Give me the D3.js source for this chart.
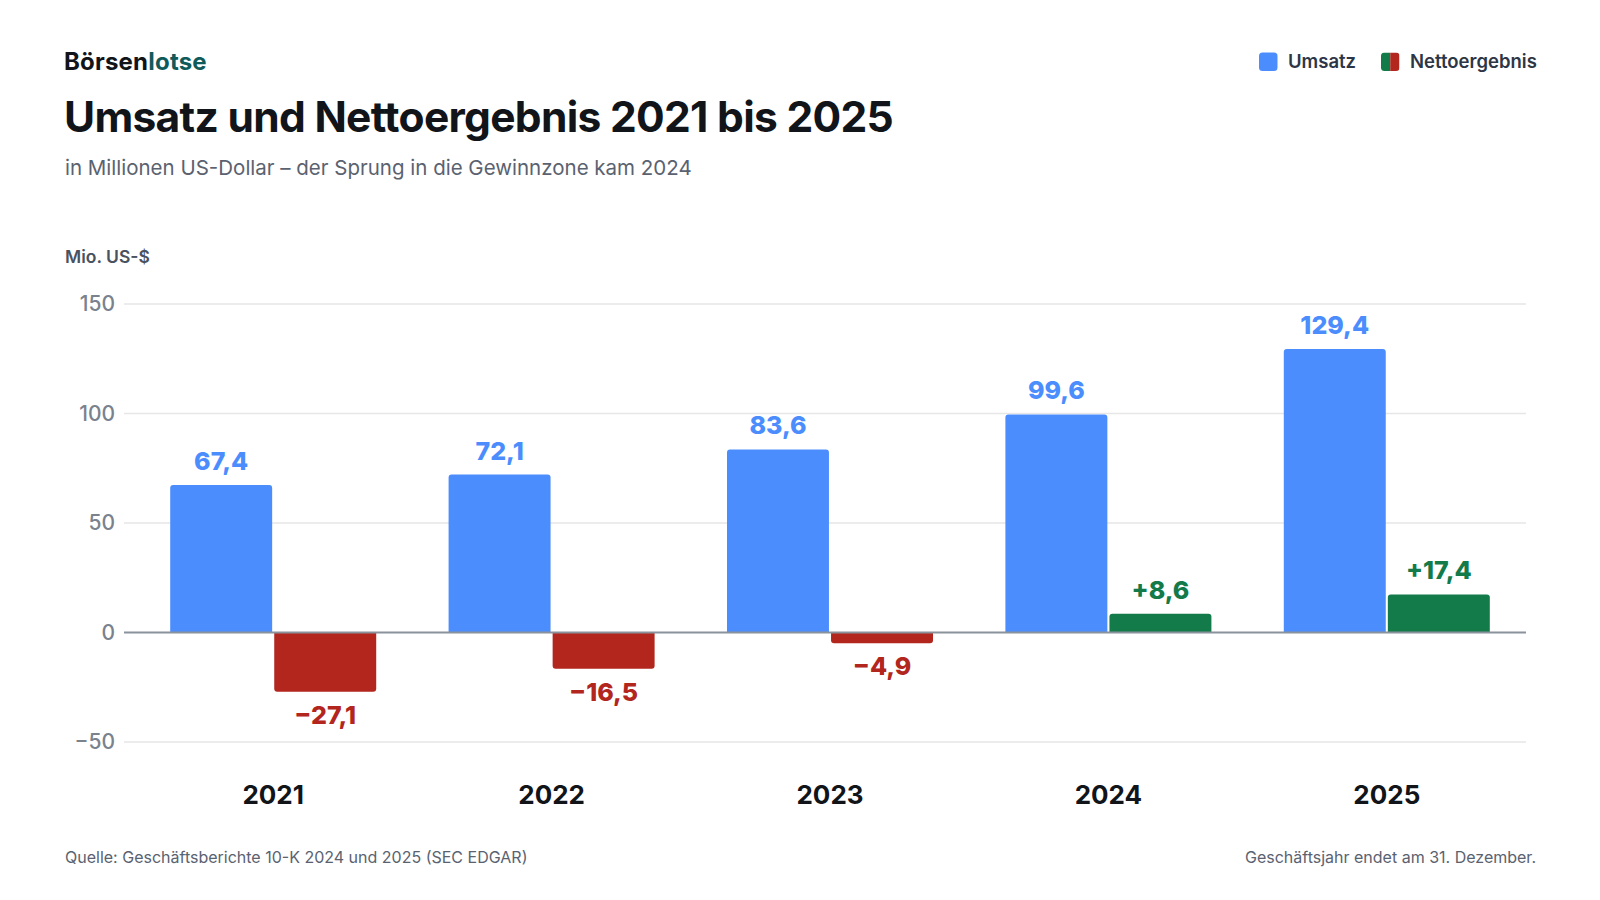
<!DOCTYPE html>
<html lang="de">
<head>
<meta charset="utf-8">
<script src="https://cdn.jsdelivr.net/npm/d3@7"></script>
<style>
  html, body { margin: 0; padding: 0; background: #fff; }
  svg { display: block; font-family: Inter, "Noto Sans", sans-serif; }
</style>
</head>
<body>
<svg id="chart"></svg>
<script>
// Werte in Mio. US-$
var years = ["2021", "2022", "2023", "2024", "2025"];
var umsatz = [67.4, 72.1, 83.6, 99.6, 129.4];
var netto = [-27.1, -16.5, -4.9, 8.6, 17.4];
var yTicks = [-50, 0, 50, 100, 150];
var seriesNames = ["Umsatz", "Nettoergebnis"];

var width = 1600,
    height = 900;
var left = 65,
    right = 1536;
var blue = "#4c8dfe",
    red = "#b2261e",
    green = "#137a4a";

var svg = d3.select("#chart")
    .attr("width", width)
    .attr("height", height)
    .attr("viewBox", "0 0 " + width + " " + height);

// Kopfzeile
var logo = svg.append("text")
    .attr("x", left - 1)
    .attr("y", 70)
    .attr("font-size", "24px")
    .attr("font-weight", 700)
    .attr("letter-spacing", "0.2px");
logo.append("tspan").attr("fill", "#111418").text("Börsen");
logo.append("tspan").attr("fill", "#0f5b5b").text("lotse");

svg.append("text")
    .attr("x", left - 1)
    .attr("y", 132)
    .attr("font-size", "42.5px")
    .attr("font-weight", 700)
    .attr("letter-spacing", "-0.7px")
    .attr("fill", "#111418")
    .text("Umsatz und Nettoergebnis 2021 bis 2025");

svg.append("text")
    .attr("x", left)
    .attr("y", 175)
    .attr("font-size", "20.5px")
    .attr("fill", "#5a6270")
    .text("in Millionen US-Dollar – der Sprung in die Gewinnzone kam 2024");

// Legende
var legend = svg.append("g");
legend.append("rect")
    .attr("x", 1259).attr("y", 52.5)
    .attr("width", 18.5).attr("height", 18.5)
    .attr("rx", 3.5)
    .attr("fill", blue);
legend.append("text")
    .attr("x", 1288).attr("y", 67.5)
    .attr("font-size", "18.5px").attr("font-weight", 600)
    .attr("fill", "#2d3646")
    .text(seriesNames[0]);

var clip = svg.append("clipPath").attr("id", "legclip");
clip.append("rect")
    .attr("x", 1381).attr("y", 52.5)
    .attr("width", 18.5).attr("height", 18.5)
    .attr("rx", 3.5);
legend.append("rect")
    .attr("x", 1381).attr("y", 52.5)
    .attr("width", 9.25).attr("height", 18.5)
    .attr("fill", green)
    .attr("clip-path", "url(#legclip)");
legend.append("rect")
    .attr("x", 1390.25).attr("y", 52.5)
    .attr("width", 9.25).attr("height", 18.5)
    .attr("fill", red)
    .attr("clip-path", "url(#legclip)");
legend.append("text")
    .attr("x", 1410).attr("y", 67.5)
    .attr("font-size", "18.5px").attr("font-weight", 600)
    .attr("fill", "#2d3646")
    .text(seriesNames[1]);

// Skalen
var y = d3.scaleLinear()
    .domain([-50, 150])
    .range([742, 304]);

var x0 = d3.scaleBand()
    .domain(years)
    .range([134, 1526])
    .paddingInner(0.26)
    .paddingOuter(0.13);

var x1 = d3.scaleBand()
    .domain(seriesNames)
    .range([0, x0.bandwidth()])
    .paddingInner(0.02);

svg.append("text")
    .attr("x", left)
    .attr("y", 263)
    .attr("font-size", "17.5px")
    .attr("font-weight", 600)
    .attr("fill", "#4a5260")
    .text("Mio. US-$");

// Gitternetz
svg.append("g")
    .selectAll("line")
    .data(yTicks.filter(d => d !== 0))
    .join("line")
    .attr("x1", 124)
    .attr("x2", 1526)
    .attr("y1", d => y(d))
    .attr("y2", d => y(d))
    .attr("stroke", "#e6e6e6")
    .attr("stroke-width", 1.5);

var yAxis = svg.append("g")
    .attr("transform", "translate(115,0)")
    .call(d3.axisLeft(y).tickValues(yTicks).tickSize(0).tickPadding(0)
        .tickFormat(d => d < 0 ? "\u2212" + Math.abs(d) : d));
yAxis.select(".domain").remove();
yAxis.selectAll("text")
    .attr("font-family", "Inter, 'Noto Sans', sans-serif")
    .attr("font-size", "21px")
    .attr("font-weight", 500)
    .attr("fill", "#7a828e");

function fmt(v, sign) {
    var s = Math.abs(v).toFixed(1).replace(".", ",");
    if (!sign) return s;
    return (v < 0 ? "\u2212" : "+") + s;
}

// Balken mit abgerundeter Außenkante
function barPath(x, w, v) {
    var y0 = y(0), y1 = y(v), r = 3;
    var h = Math.abs(y1 - y0);
    if (h < 2 * r) r = h / 2;
    if (v >= 0) {
        return "M" + x + "," + y0 +
            "V" + (y1 + r) + "Q" + x + "," + y1 + " " + (x + r) + "," + y1 +
            "H" + (x + w - r) + "Q" + (x + w) + "," + y1 + " " + (x + w) + "," + (y1 + r) +
            "V" + y0 + "Z";
    }
    return "M" + x + "," + y0 +
        "V" + (y1 - r) + "Q" + x + "," + y1 + " " + (x + r) + "," + y1 +
        "H" + (x + w - r) + "Q" + (x + w) + "," + y1 + " " + (x + w) + "," + (y1 - r) +
        "V" + y0 + "Z";
}

var groups = svg.append("g")
    .selectAll("g")
    .data(years.map((yr, i) => ({ year: yr, rev: umsatz[i], net: netto[i] })))
    .join("g")
    .attr("transform", d => "translate(" + x0(d.year) + ",0)");

groups.append("path")
    .attr("d", d => barPath(x1("Umsatz"), x1.bandwidth(), d.rev))
    .attr("fill", blue);

groups.append("path")
    .attr("d", d => barPath(x1("Nettoergebnis"), x1.bandwidth(), d.net))
    .attr("fill", d => d.net < 0 ? red : green);

groups.append("text")
    .attr("x", x1("Umsatz") + x1.bandwidth() / 2)
    .attr("y", d => y(d.rev) - 15)
    .attr("text-anchor", "middle")
    .attr("font-size", "25px")
    .attr("font-weight", 800)
    .attr("fill", blue)
    .text(d => fmt(d.rev, false));

groups.append("text")
    .attr("x", x1("Nettoergebnis") + x1.bandwidth() / 2)
    .attr("y", d => d.net < 0 ? y(d.net) + 32 : y(d.net) - 15)
    .attr("text-anchor", "middle")
    .attr("font-size", "25px")
    .attr("font-weight", 800)
    .attr("fill", d => d.net < 0 ? red : green)
    .text(d => fmt(d.net, true));

// Nulllinie
svg.append("line")
    .attr("x1", 124)
    .attr("x2", 1526)
    .attr("y1", y(0))
    .attr("y2", y(0))
    .attr("stroke", "#8a929c")
    .attr("stroke-width", 2);

// Jahre
var xAxis = svg.append("g")
    .attr("transform", "translate(0,804)")
    .call(d3.axisBottom(x0).tickSize(0).tickPadding(0));
xAxis.select(".domain").remove();
xAxis.selectAll("text")
    .attr("dy", 0)
    .attr("y", 0)
    .attr("font-family", "Inter, 'Noto Sans', sans-serif")
    .attr("font-size", "26px")
    .attr("font-weight", 700)
    .attr("fill", "#111418");

// Fußzeile
svg.append("text")
    .attr("x", left)
    .attr("y", 863)
    .attr("font-size", "16px")
    .attr("fill", "#5a6270")
    .text("Quelle: Geschäftsberichte 10-K 2024 und 2025 (SEC EDGAR)");

svg.append("text")
    .attr("x", right)
    .attr("y", 863)
    .attr("text-anchor", "end")
    .attr("font-size", "16px")
    .attr("fill", "#5a6270")
    .text("Geschäftsjahr endet am 31. Dezember.");
</script>
</body>
</html>
